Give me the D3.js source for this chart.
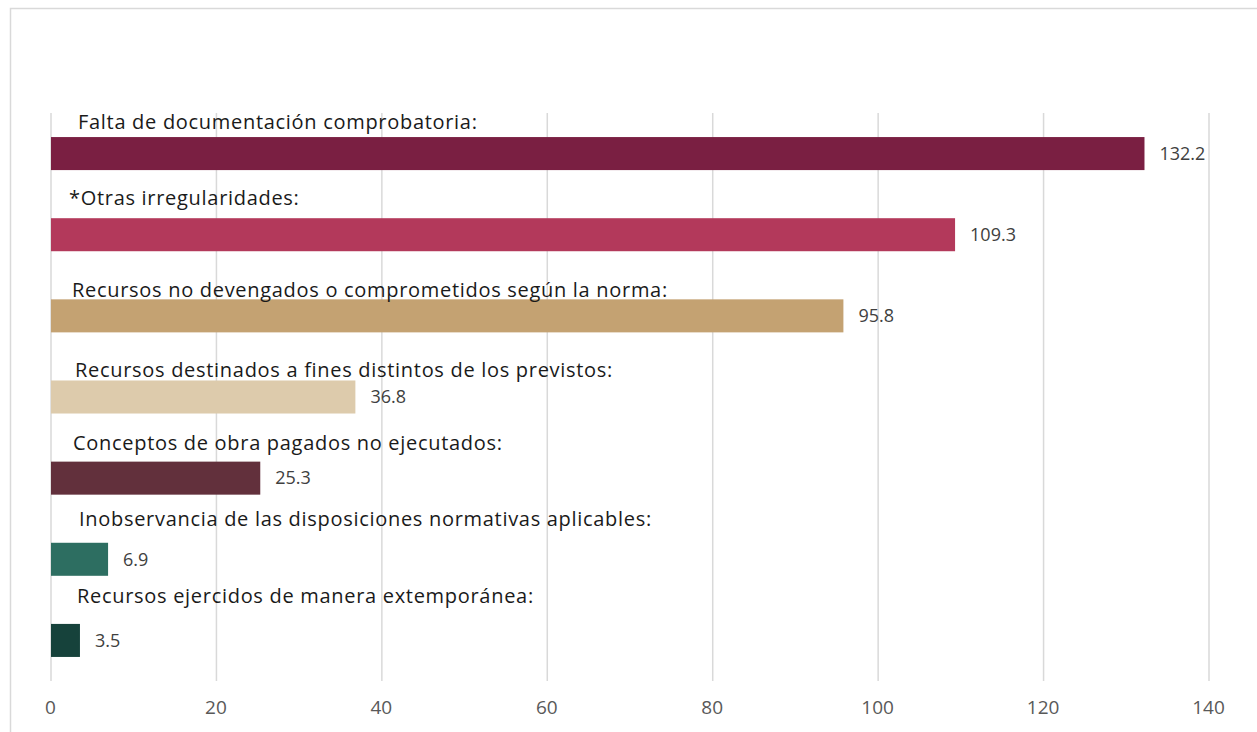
<!DOCTYPE html>
<html>
<head>
<meta charset="utf-8">
<script src="https://cdn.jsdelivr.net/npm/d3@7"></script>
<style>
  html, body { margin: 0; padding: 0; background: #fff; }
  svg { display: block; }
</style>
</head>
<body>
<svg id="chart" width="1257" height="732"></svg>
<script>
// ---- data ----
const categories = [
  "Falta de documentación comprobatoria:",
  "*Otras irregularidades:",
  "Recursos no devengados o comprometidos según la norma:",
  "Recursos destinados a fines distintos de los previstos:",
  "Conceptos de obra pagados no ejecutados:",
  "Inobservancia de las disposiciones normativas aplicables:",
  "Recursos ejercidos de manera extemporánea:"
];
const values = [132.2, 109.3, 95.8, 36.8, 25.3, 6.9, 3.5];
const tickValues = [0, 20, 40, 60, 80, 100, 120, 140];

// ---- style / layout (not data) ----
const barColors = ["#7A1F42", "#B3395B", "#C4A272", "#DDCBAC", "#62303C", "#2D6E61", "#16423B"];
const labelDx = [27, 18, 21, 24, 22, 28, 26];
const labelLift = [8, 13, 2, 3, 12, 17, 21];

const svg = d3.select("#chart");
const W = 1257, H = 732;
const margin = { left: 51, top: 113 };

// outer border
svg.append("rect")
  .attr("x", 10.5).attr("y", 8.5)
  .attr("width", W).attr("height", H)
  .attr("fill", "none").attr("stroke", "#d9d9d9").attr("stroke-width", 1.5);

const x = d3.scaleLinear().domain([0, 140]).range([margin.left, 1209]);
const y = d3.scaleBand().domain(d3.range(categories.length))
  .range([margin.top, 681]).paddingInner(0.593).paddingOuter(0.2965);

// gridlines
svg.append("g").selectAll("line").data(tickValues).join("line")
  .attr("x1", d => x(d)).attr("x2", d => x(d))
  .attr("y1", margin.top).attr("y2", 681)
  .attr("stroke", "#d9d9d9").attr("stroke-width", 1.5);

// axis
const axis = svg.append("g").attr("transform", "translate(0,681)")
  .call(d3.axisBottom(x).tickValues(tickValues).tickSize(0).tickPadding(20));
axis.select(".domain").remove();
axis.selectAll("text")
  .attr("font-family", "'Open Sans', sans-serif")
  .attr("font-size", 19)
  .attr("fill", "#595959")
  .attr("dx", -1);

// bars
svg.append("g").selectAll("rect").data(values).join("rect")
  .attr("x", x(0))
  .attr("y", (d, i) => y(i))
  .attr("width", d => x(d) - x(0))
  .attr("height", y.bandwidth())
  .attr("fill", (d, i) => barColors[i]);

// value labels
svg.append("g").selectAll("text").data(values).join("text")
  .attr("x", d => x(d) + 15)
  .attr("y", (d, i) => y(i) + y.bandwidth() / 2)
  .attr("dy", "0.35em")
  .attr("font-family", "'Open Sans', sans-serif")
  .attr("font-size", 18)
  .attr("fill", "#404040")
  .text(d => d.toFixed(1));

// category labels
svg.append("g").selectAll("text").data(categories).join("text")
  .attr("x", (d, i) => x(0) + labelDx[i])
  .attr("y", (d, i) => y(i) - labelLift[i])
  .attr("font-family", "'Open Sans', sans-serif")
  .attr("font-size", 20)
  .attr("letter-spacing", 0.7)
  .attr("fill", "#1a1a1a")
  .text(d => d);
</script>
</body>
</html>
